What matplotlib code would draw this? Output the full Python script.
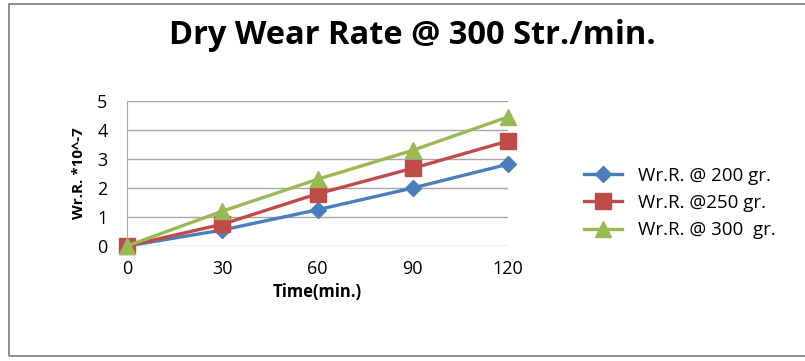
import matplotlib.pyplot as plt
from matplotlib.patches import Rectangle

time_min = [0, 30, 60, 90, 120]
wr_200 = [0, 0.55, 1.25, 2.0, 2.82]
wr_250 = [0, 0.75, 1.8, 2.68, 3.62]
wr_300 = [0, 1.2, 2.3, 3.3, 4.45]
labels = ['Wr.R. @ 200 gr.', 'Wr.R. @250 gr.', 'Wr.R. @ 300  gr.']

plt.rcParams['font.family'] = ['Open Sans', 'DejaVu Sans']

dpi = 100
fig = plt.figure(dpi=dpi, figsize=(805 / dpi, 361 / dpi))
# chart border, open on the right
fig.patches.append(Rectangle((9 / 805, 5 / 361), 820 / 805, 352 / 361,
                             transform=fig.transFigure, fill=False,
                             edgecolor='#8c8c8c', linewidth=1.4))

ax = fig.add_axes([127 / 805, 115 / 361, 381 / 805, 145 / 361])

ax.plot(time_min, wr_200, color='#4a7ebb', marker='D', markersize=8, linewidth=2.4, label=labels[0])
ax.plot(time_min, wr_250, color='#be4b48', marker='s', markersize=11, linewidth=2.4, label=labels[1])
ax.plot(time_min, wr_300, color='#98b954', marker='^', markersize=12, linewidth=2.4, label=labels[2])

ax.set_xlim(0, 120)
ax.set_ylim(0, 5)
ax.set_xticks(time_min)
ax.set_yticks(range(6))
ax.grid(axis='y', color='#a6a6a6', linewidth=1)
ax.set_axisbelow(True)
for side in ['top', 'right', 'bottom']:
    ax.spines[side].set_visible(False)
ax.spines['left'].set_color('#a6a6a6')
ax.tick_params(axis='x', length=0, labelsize=13, pad=10)
ax.tick_params(axis='y', length=0, labelsize=13, pad=14)
for line in ax.lines:
    line.set_clip_on(False)

ax.set_xlabel('Time(min.)', fontsize=12, fontweight='bold', labelpad=4)
ax.set_ylabel('Wr.R. *10^-7', fontsize=11, fontweight='bold', labelpad=8)

fig.text(412 / 805, 1 - 35 / 361, 'Dry Wear Rate @ 300 Str./min.',
         fontsize=23.5, fontweight='bold', ha='center', va='center')

ax.legend(loc='center left', bbox_to_anchor=(584 / 805, 1 - 203 / 361),
          bbox_transform=fig.transFigure, frameon=False, fontsize=13.5,
          borderpad=0, borderaxespad=0,
          handlelength=2.0, handletextpad=0.9, labelspacing=0.5)

fig.savefig('out.png')
